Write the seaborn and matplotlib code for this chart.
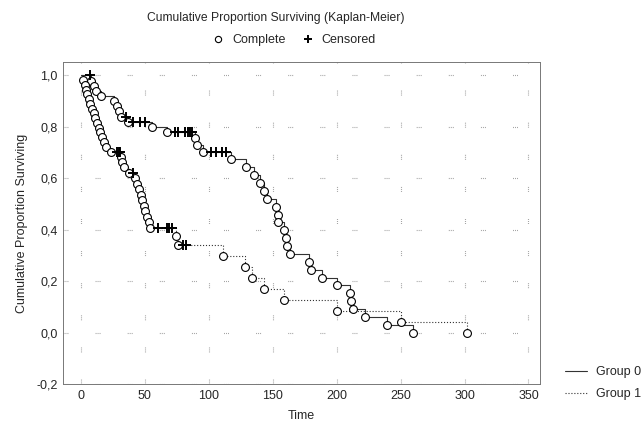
import numpy as np
import pandas as pd
import matplotlib
matplotlib.use("Agg")
import matplotlib.pyplot as plt
from matplotlib.lines import Line2D
from matplotlib.ticker import FuncFormatter, MultipleLocator
import seaborn as sns

# Group 0: times of complete observations and the survival estimate after each
g0_event_time = [8, 10, 12, 16, 26, 28, 30, 31.5, 36.5, 55.5, 67, 89, 91, 95.7,
                 117, 129, 135.5, 140, 143, 145.8, 152.6, 154, 154.5, 159, 160,
                 161, 163.5, 178.7, 179.7, 188.3, 200.6, 210.5, 211.3, 213, 222,
                 239, 259.5]
g0_surv = [0.98, 0.96, 0.94, 0.92, 0.90, 0.88, 0.86, 0.84, 0.82, 0.80, 0.78,
           0.756, 0.731, 0.704, 0.674, 0.643, 0.612, 0.582, 0.551, 0.520,
           0.490, 0.459, 0.429, 0.398, 0.367, 0.337, 0.306, 0.276, 0.245,
           0.214, 0.184, 0.153, 0.122, 0.092, 0.061, 0.031, 0.0]
g0_censor_time = [7, 35, 41, 46, 50, 73.5, 76, 81.5, 83.5, 85.3, 87,
                  102, 106, 110, 113.5]

# Group 1
g1_event_time = [2, 3, 4, 5, 6, 7.5, 8.5, 10, 11, 12.5, 14, 15, 16.5, 18, 20,
                 23.5, 31.5, 32.5, 34, 37.5, 42, 43.5, 45.5, 47, 48, 49.5,
                 50.5, 51.5, 53, 54, 74.5, 76, 111.5, 128, 133.5, 143.5, 159,
                 200, 250, 302]
g1_surv = [0.981, 0.963, 0.944, 0.926, 0.907, 0.889, 0.870, 0.852, 0.833,
           0.815, 0.796, 0.778, 0.759, 0.741, 0.722, 0.704, 0.684, 0.663,
           0.643, 0.622, 0.601, 0.579, 0.558, 0.536, 0.515, 0.493, 0.472,
           0.450, 0.429, 0.407, 0.374, 0.339, 0.297, 0.254, 0.212, 0.169,
           0.127, 0.085, 0.042, 0.0]
g1_censor_time = [28.5, 29.5, 30.5, 40.5, 60, 67, 69, 71, 80, 82]

groups = ["Group 0", "Group 1"]
x_ticks = [0, 50, 100, 150, 200, 250, 300, 350]
y_ticks = [-0.2, 0.0, 0.2, 0.4, 0.6, 0.8, 1.0]


def step_frame(event_time, surv, censor_time, name):
    t = np.concatenate([[0.0], event_time])
    s = np.concatenate([[1.0], surv])
    end = max(max(event_time), max(censor_time))
    if end > t[-1]:
        t = np.append(t, end)
        s = np.append(s, s[-1])
    curve = pd.DataFrame({"Time": t, "S": s, "group": name})
    idx = np.searchsorted(t, censor_time, side="right") - 1
    cens = pd.DataFrame({"Time": censor_time, "S": s[idx], "group": name})
    pts = pd.DataFrame({"Time": event_time, "S": surv, "group": name})
    return curve, pts, cens


sns.set_style("white")
plt.rcParams["font.family"] = ["Liberation Sans", "DejaVu Sans"]
plt.rcParams["font.size"] = 9

fig = plt.figure(figsize=(6.43, 4.28), dpi=100)
ax = fig.add_axes([63 / 643, 44 / 428, (540 - 63) / 643, (384 - 62) / 428])

styles = {"Group 0": "-", "Group 1": ":"}
data = [step_frame(g0_event_time, g0_surv, g0_censor_time, "Group 0"),
        step_frame(g1_event_time, g1_surv, g1_censor_time, "Group 1")]

for curve, pts, cens in data:
    name = curve["group"].iloc[0]
    sns.lineplot(data=curve, x="Time", y="S", ax=ax, estimator=None,
                 sort=False, drawstyle="steps-post", color="#333333",
                 linewidth=0.8, linestyle=styles[name], zorder=2)
for curve, pts, cens in data:
    sns.scatterplot(data=pts, x="Time", y="S", ax=ax, marker="o", s=32,
                    facecolor="white", edgecolor="black", linewidth=0.8,
                    zorder=3)
    ax.plot(cens["Time"], cens["S"], linestyle="none", marker="+",
            markersize=7, markeredgewidth=1.4, color="black", zorder=4)

ax.set_xlim(-14, 359)
ax.set_ylim(-0.2, 1.052)
ax.set_xticks(x_ticks)
ax.set_yticks(y_ticks)
ax.yaxis.set_minor_locator(MultipleLocator(0.1))
ax.xaxis.set_minor_locator(MultipleLocator(25))
ax.yaxis.set_major_formatter(FuncFormatter(lambda v, p: f"{v:.1f}".replace(".", ",").replace("-0,0", "0,0")))
ax.tick_params(axis="both", which="both", direction="in", length=2.5,
               width=0.6, color="#555555", labelsize=9, pad=4)
ax.tick_params(axis="both", which="minor", length=1.5)

grid_ls = (0, (0.8, 1.0, 0.8, 1.0, 0.8, 24.5))
ax.grid(True, which="major", color="#9a9a9a", linewidth=0.8, linestyle=grid_ls)
for sp in ax.spines.values():
    sp.set_color("#777777")
    sp.set_linewidth(0.7)

ax.set_xlabel("Time", fontsize=9, labelpad=6)
ax.set_ylabel("Cumulative Proportion Surviving", fontsize=9, labelpad=6)

fig.text(276 / 643, 1 - 18 / 428, "Cumulative Proportion Surviving (Kaplan-Meier)",
         ha="center", va="center", fontsize=8.7)

marker_handles = [
    Line2D([], [], linestyle="none", marker="o", markersize=4.5,
           markerfacecolor="white", markeredgecolor="black", markeredgewidth=0.8),
    Line2D([], [], linestyle="none", marker="+", markersize=6,
           markeredgewidth=1.4, color="black"),
]
fig.legend(marker_handles, ["Complete", "Censored"], loc="center",
           bbox_to_anchor=(294 / 643, 1 - 40 / 428), ncol=2, frameon=False,
           fontsize=9, handlelength=1.0, handletextpad=0.6, columnspacing=1.3)

group_handles = [Line2D([], [], color="#333333", linewidth=0.8, linestyle=styles[g])
                 for g in groups]
fig.legend(group_handles, groups, loc="upper left",
           bbox_to_anchor=(565 / 643, 1 - 366 / 428), frameon=False,
           borderpad=0, borderaxespad=0, fontsize=9, handlelength=1.75,
           handletextpad=0.75, labelspacing=0.8)

fig.savefig("out.png", dpi=100)
